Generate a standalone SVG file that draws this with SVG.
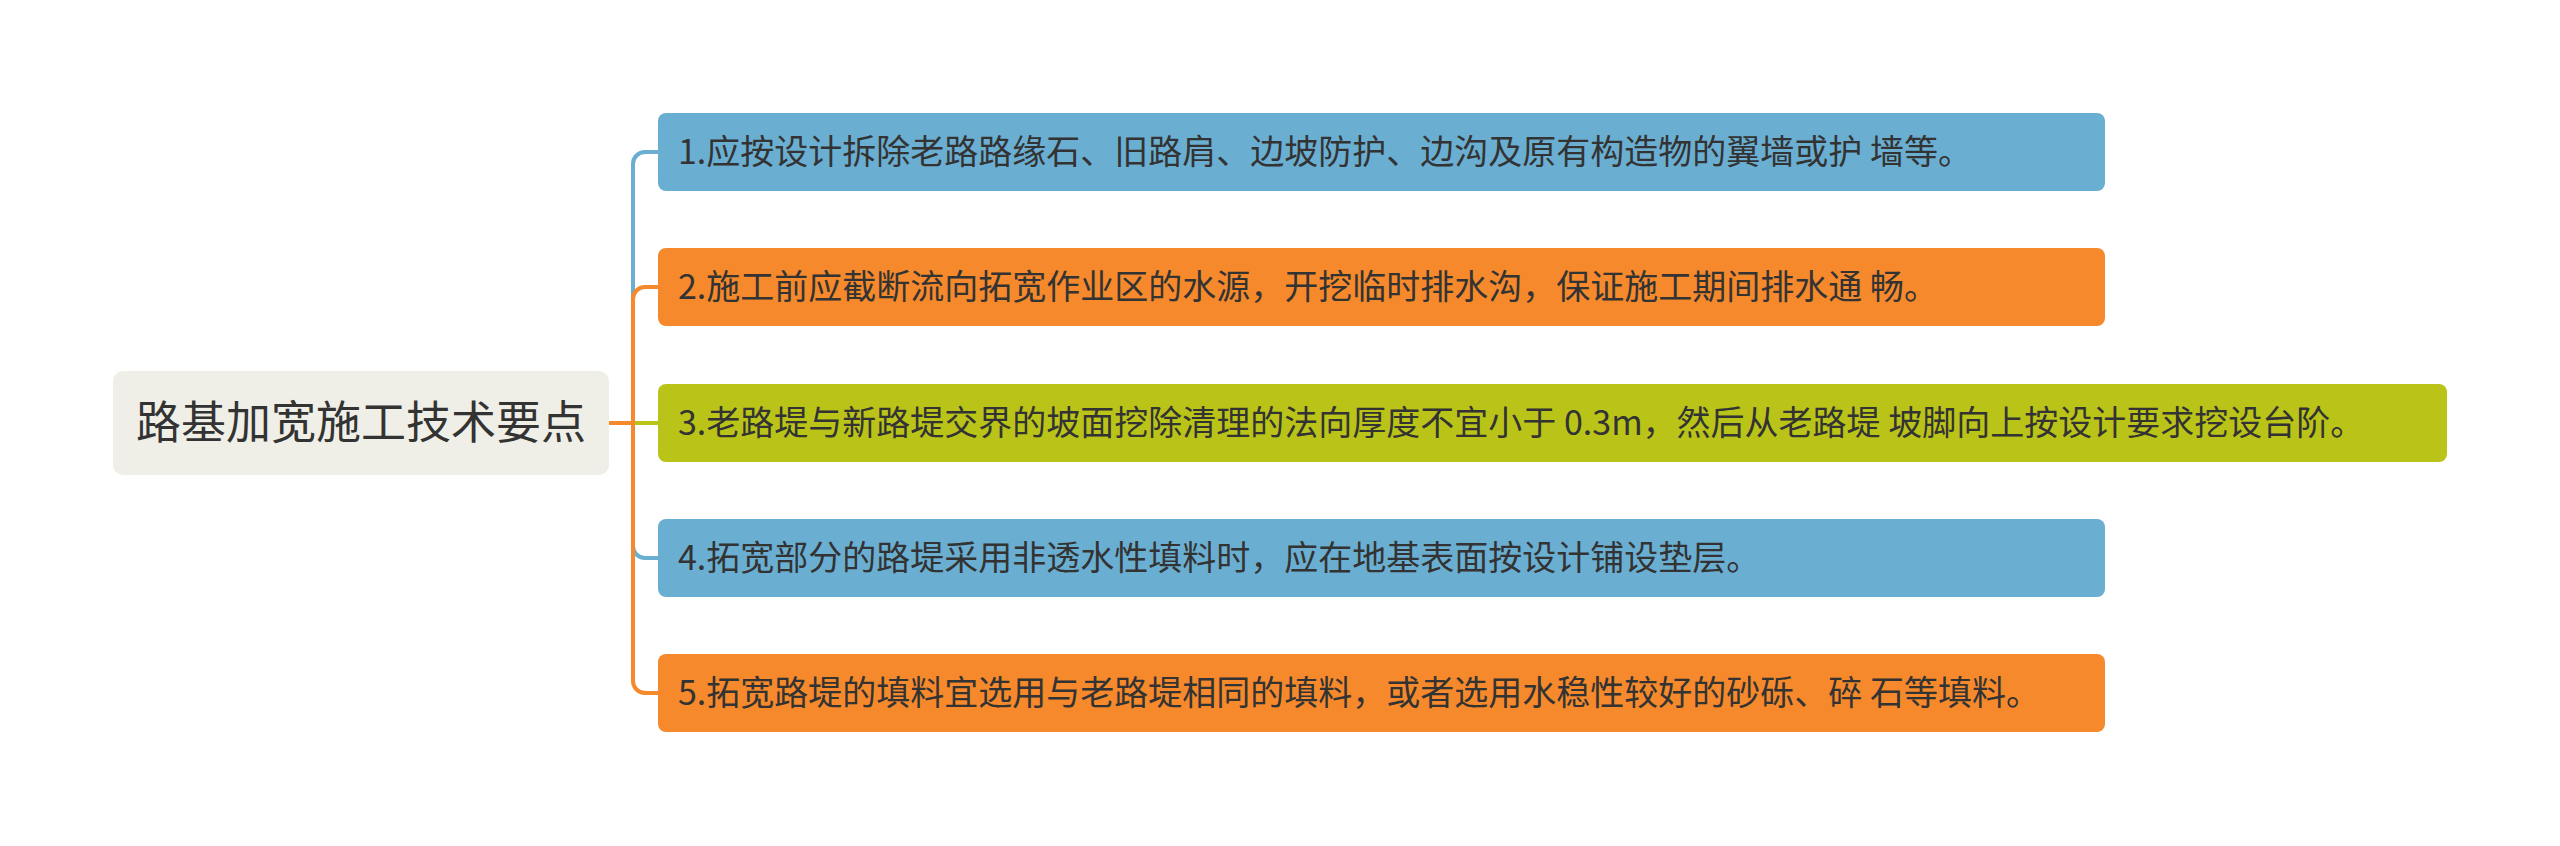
<svg xmlns="http://www.w3.org/2000/svg" width="2560" height="846" viewBox="0 0 2560 846">
<style>
.blue{fill:#6aafd2}
.orange{fill:#f5892b}
.green{fill:#bac418}
.t{font-family:"Noto Sans CJK SC","Noto Sans",sans-serif;font-size:34px;fill:#333333}
.rt{font-family:"Noto Sans CJK SC","Noto Sans",sans-serif;font-size:45px;fill:#333333}
.c{fill:none;stroke-width:4}
</style>
<rect width="2560" height="846" fill="#ffffff"/>
<g id="connectors">
<path class="c" stroke="#6aafd2" d="M609 423 H633 V164 A12 12 0 0 1 645 152 H658"/>
<path class="c" stroke="#f5892b" d="M609 423 H633 V299 A12 12 0 0 1 645 287 H658"/>
<path class="c" stroke="#bac418" d="M609 423 H658"/>
<path class="c" stroke="#6aafd2" d="M609 423 H633 V546 A12 12 0 0 0 645 558 H658"/>
<path class="c" stroke="#f5892b" d="M609 423 H633 V681 A12 12 0 0 0 645 693 H658"/>
</g>
<g id="root">
<rect x="113" y="371" width="496" height="104" rx="10" fill="#efefe7"/>
<text class="rt" x="361" y="439" text-anchor="middle">路基加宽施工技术要点</text>
</g>
<g id="n1">
<rect class="blue" x="658" y="113" width="1447" height="78" rx="8"/>
<text class="t" x="678" y="164">1.应按设计拆除老路路缘石、旧路肩、边坡防护、边沟及原有构造物的翼墙或护 墙等。</text>
</g>
<g id="n2">
<rect class="orange" x="658" y="248" width="1447" height="78" rx="8"/>
<text class="t" x="678" y="299">2.施工前应截断流向拓宽作业区的水源，开挖临时排水沟，保证施工期间排水通 畅。</text>
</g>
<g id="n3">
<rect class="green" x="658" y="384" width="1789" height="78" rx="8"/>
<text class="t" x="678" y="435">3.老路堤与新路堤交界的坡面挖除清理的法向厚度不宜小于 0.3m，然后从老路堤 坡脚向上按设计要求挖设台阶。</text>
</g>
<g id="n4">
<rect class="blue" x="658" y="519" width="1447" height="78" rx="8"/>
<text class="t" x="678" y="570">4.拓宽部分的路堤采用非透水性填料时，应在地基表面按设计铺设垫层。</text>
</g>
<g id="n5">
<rect class="orange" x="658" y="654" width="1447" height="78" rx="8"/>
<text class="t" x="678" y="705">5.拓宽路堤的填料宜选用与老路堤相同的填料，或者选用水稳性较好的砂砾、碎 石等填料。</text>
</g>
</svg>
